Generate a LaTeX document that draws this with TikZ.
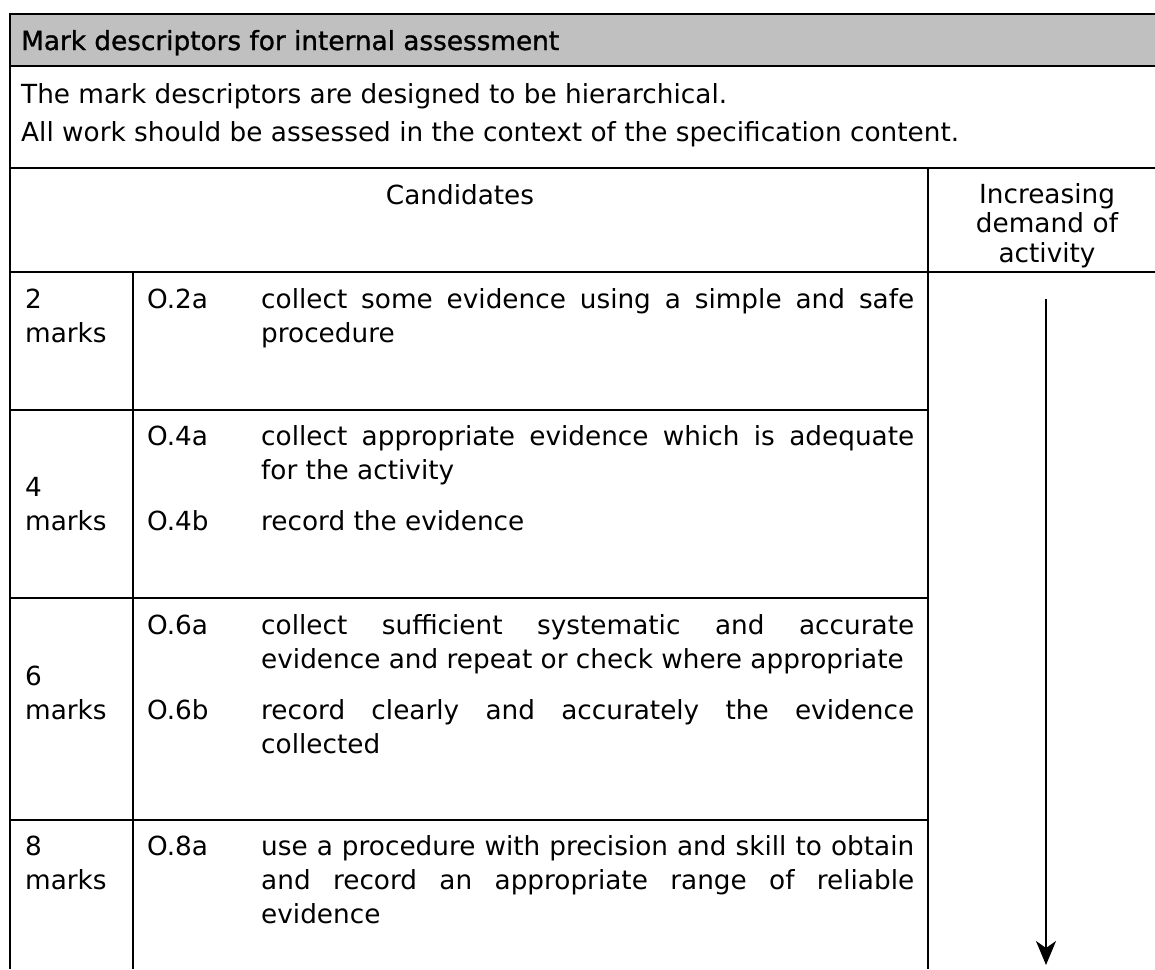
\documentclass[tikz,border=0pt]{standalone}
\usepackage{fontspec}
\setmainfont{DejaVu Sans}
\newfontfamily\headfont[FakeBold=1.2]{DejaVu Sans}
\usetikzlibrary{arrows.meta}
\definecolor{headgray}{RGB}{192,192,192}
\tolerance=10000
\hyphenpenalty=10000
\begin{document}
\begin{tikzpicture}[x=1pt,y=-1pt,
  rule/.style={line width=2.8pt},
  txt/.style={font=\fontsize{26.3}{34}\selectfont, inner sep=0pt, anchor=base west},
  desc/.style={txt, text width=653pt, align=justify},
  markcell/.style={txt, text width=100pt, align=left}]
\useasboundingbox (0,0) rectangle (1155,969);
\fill[headgray] (10,14) rectangle (1155,66);
\draw[rule] (1155,14) -- (10,14) -- (10,969);
\draw[rule] (10,66) -- (1155,66);
\draw[rule] (10,168) -- (1155,168);
\draw[rule] (10,272) -- (1155,272);
\draw[rule] (928,168) -- (928,969);
\draw[rule] (133,272) -- (133,969);
\foreach \y in {410,598,820}
  \draw[rule] (10,\y) -- (928,\y);
\node[txt, font=\headfont\fontsize{26.3}{34}\selectfont] (title) at (21,50) {Mark descriptors for internal assessment};
\node[txt] (note1) at (21,103) {The mark descriptors are designed to be hierarchical.};
\node[txt] (note2) at (21,141) {All work should be assessed in the context of the specification content.};
\node[txt, anchor=base] (cand) at (460,204) {Candidates};
\node[txt, anchor=base, text width=230pt, align=center, font=\fontsize{26.3}{29.5}\selectfont] (demand) at (1047,203) {Increasing\\demand of\\activity};
\node[markcell] (m2) at (25,308) {2\\marks};
\node[txt] (c2a) at (147,308) {O.2a};
\node[desc] (d2a) at (261,308) {collect some evidence using a simple and safe\linebreak procedure};
\node[markcell] (m4) at (25,496) {4\\marks};
\node[txt] (c4a) at (147,445) {O.4a};
\node[desc] (d4a) at (261,445) {collect appropriate evidence which is adequate\linebreak for the activity};
\node[txt] (c4b) at (147,530) {O.4b};
\node[desc] (d4b) at (261,530) {record the evidence};
\node[markcell] (m6) at (25,685) {6\\marks};
\node[txt] (c6a) at (147,634) {O.6a};
\node[desc] (d6a) at (261,634) {collect sufficient systematic and accurate\linebreak evidence and repeat or check where appropriate};
\node[txt] (c6b) at (147,719) {O.6b};
\node[desc] (d6b) at (261,719) {record clearly and accurately the evidence\linebreak collected};
\node[markcell] (m8) at (25,855) {8\\marks};
\node[txt] (c8a) at (147,855) {O.8a};
\node[desc] (d8a) at (261,855) {use a procedure with precision and skill to obtain\linebreak and record an appropriate range of reliable\linebreak evidence};
\coordinate (arrtop) at (1046,299);
\coordinate (arrbot) at (1046,965);
\draw[line width=1.8pt, -{Stealth[length=24pt,width=20pt,inset=7pt]}] (arrtop) -- (arrbot);
\end{tikzpicture}
\end{document}
